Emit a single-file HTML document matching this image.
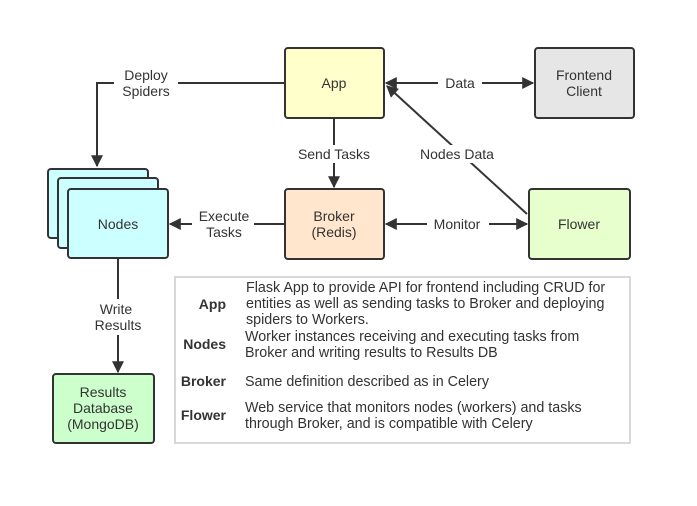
<!DOCTYPE html>
<html><head><style>body{margin:0;background:#fff}svg{display:block}text{font-family:"Liberation Sans","DejaVu Sans",sans-serif;font-size:14px;fill:#333}.l text{font-size:14.3px}</style></head><body>
<svg width="697" height="506" viewBox="0 0 697 506">
<defs><marker id="a" viewBox="0 0 10 10" refX="9" refY="5" markerWidth="6" markerHeight="6" orient="auto-start-reverse"><path d="M0,0L10,5L0,10z" fill="#333"/></marker></defs>
<g stroke="#333" stroke-width="2" fill="none">
<path d="M285,83H97V166" marker-end="url(#a)"/>
<path d="M386,83H533" marker-start="url(#a)" marker-end="url(#a)"/>
<path d="M527,214L387,86" marker-end="url(#a)"/>
<path d="M334,118V187" marker-end="url(#a)"/>
<path d="M285,224H170" marker-end="url(#a)"/>
<path d="M386,224H527" marker-start="url(#a)" marker-end="url(#a)"/>
<path d="M118,258V372" marker-end="url(#a)"/>
</g>
<g fill="#fff">
<rect x="114" y="67" width="64" height="34"/><rect x="438" y="75" width="44" height="17"/>
<rect x="414" y="145" width="86" height="18"/><rect x="294" y="145" width="82" height="18"/>
<rect x="192" y="207" width="62" height="34"/><rect x="427" y="215" width="62" height="18"/>
<rect x="90" y="299" width="56" height="36"/>
</g>
<g stroke="#333" stroke-width="2">
<rect x="285" y="48" width="99" height="70" rx="3" fill="#ffffcc"/>
<rect x="535" y="48" width="99" height="70" rx="3" fill="#e6e6e6"/>
<rect x="285" y="189" width="99" height="70" rx="3" fill="#ffe6cc"/>
<rect x="529" y="189" width="101" height="70" rx="3" fill="#e6ffcc"/>
<rect x="48" y="169" width="100" height="69" rx="3" fill="#ccffff"/>
<rect x="58" y="178" width="100" height="70" rx="3" fill="#ccffff"/>
<rect x="68" y="189" width="100" height="69" rx="3" fill="#ccffff"/>
<rect x="53" y="374" width="101" height="69" rx="3" fill="#ccffcc"/>
</g>
<rect x="175" y="277" width="455" height="166" fill="#fff" stroke="#ccc" stroke-width="1.5"/>
<g text-anchor="middle">
<text x="334" y="88">App</text>
<text x="584" y="80">Frontend</text><text x="584" y="96">Client</text>
<text x="334" y="221">Broker</text><text x="334" y="237">(Redis)</text>
<text x="579" y="229">Flower</text>
<text x="118" y="229">Nodes</text>
<text x="103" y="397">Results</text><text x="103" y="413">Database</text><text x="103" y="429">(MongoDB)</text>
<text x="146" y="80">Deploy</text><text x="146" y="96">Spiders</text>
<text x="460" y="88">Data</text>
<text x="457" y="159">Nodes Data</text>
<text x="334" y="159">Send Tasks</text>
<text x="224" y="221">Execute</text><text x="224" y="237">Tasks</text>
<text x="457" y="229">Monitor</text>
<text x="116" y="314">Write</text><text x="118" y="330">Results</text>
</g>
<g text-anchor="end">
<text x="226" y="309" style="font-weight:bold">App</text>
<text x="226" y="349" style="font-weight:bold">Nodes</text>
<text x="226" y="386" style="font-weight:bold">Broker</text>
<text x="226" y="420" style="font-weight:bold">Flower</text>
</g>
<g class="l">
<text x="246" y="292">Flask App to provide API for frontend including CRUD for</text>
<text x="246" y="308">entities as well as sending tasks to Broker and deploying</text>
<text x="246" y="324">spiders to Workers.</text>
<text x="245" y="341">Worker instances receiving and executing tasks from</text>
<text x="245" y="357">Broker and writing results to Results DB</text>
<text x="245" y="386">Same definition described as in Celery</text>
<text x="245" y="412">Web service that monitors nodes (workers) and tasks</text>
<text x="245" y="428">through Broker, and is compatible with Celery</text>
</g>
</svg>
</body></html>
